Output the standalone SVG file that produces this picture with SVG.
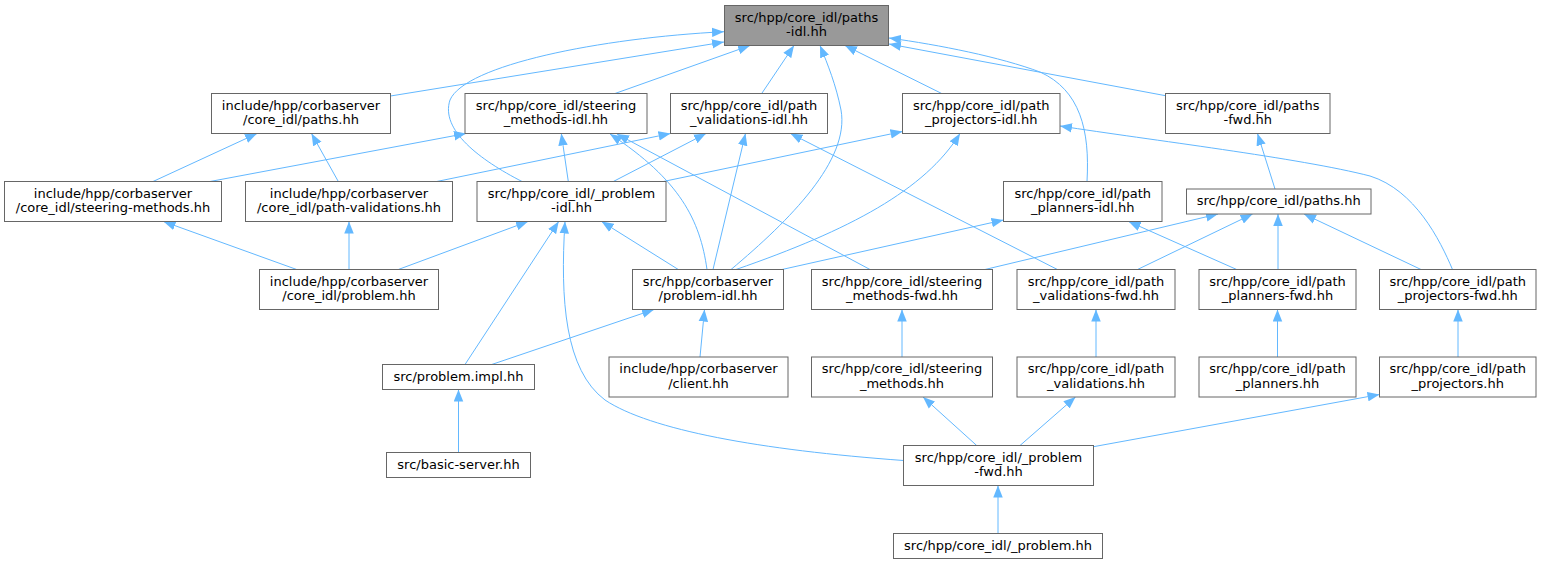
<svg xmlns="http://www.w3.org/2000/svg" width="1543" height="564" viewBox="0 0 1543 564">
<defs>
<style>
.n rect{fill:#ffffff;stroke:#666666;stroke-width:1}
.n text{font-family:"DejaVu Sans","Liberation Sans",sans-serif;font-size:13px;fill:#000000;text-anchor:middle}
#root rect{fill:#999999}
#edges path{fill:none;stroke:#63b8ff;stroke-width:1;marker-end:url(#ah)}
</style>
<marker id="ah" markerUnits="userSpaceOnUse" markerWidth="12" markerHeight="10" refX="12" refY="4.75" orient="auto" viewBox="0 0 12 9.5">
<path d="M0,0 L12,4.75 L0,9.5 z" fill="#63b8ff" stroke="none"/>
</marker>
</defs>
<rect width="1543" height="564" fill="#ffffff"/>
<g id="edges">
<path d="M390.5,96 L724,42"/>
<path d="M522,181.5 C480,160 440,130 450,100 C465,65 600,38 724,31.7"/>
<path d="M615,93.5 L750,45.5"/>
<path d="M761.7,93.5 L794,45.5"/>
<path d="M731,269.5 C790,220 850,160 841,110 C836,85 828,65 820,45.5"/>
<path d="M941.7,93.5 L845,45.5"/>
<path d="M1165.5,95.7 L889,44"/>
<path d="M1087,181.5 C1090,130 1080,90 1040,72 C1000,57 940,45 889,38"/>
<path d="M153,181.5 L257,133.5"/>
<path d="M338.3,181.5 L311.5,133.5"/>
<path d="M210,181.5 L466,133.5"/>
<path d="M436.7,181.5 L670.5,133.5"/>
<path d="M613.3,181.5 L706,133.5"/>
<path d="M568.3,181.5 L561.3,133.5"/>
<path d="M663.3,181.5 L902.5,131.5"/>
<path d="M707,269.5 C700,220 680,180 610,134"/>
<path d="M870,269.5 L617,134"/>
<path d="M713,269.5 L745.5,133.5"/>
<path d="M1057.4,269.5 L790.5,133.5"/>
<path d="M736,269.5 C850,230 925,190 960,133.5"/>
<path d="M1452.5,269.5 C1440,240 1415,190 1370,176 C1300,158 1150,140 1060,126"/>
<path d="M398.3,269.5 L528,221.5"/>
<path d="M349,269.5 L349,221.5"/>
<path d="M296.7,269.5 L163.5,221.5"/>
<path d="M465,364.5 L558.7,221.5"/>
<path d="M903.5,460.5 C760,450 650,430 605,400 C565,370 560,300 565,221.5"/>
<path d="M678.3,269.5 L601.6,221.5"/>
<path d="M782,269.5 L1003.5,220"/>
<path d="M491.7,364.5 L654,309.5"/>
<path d="M700,357 L704.5,309.5"/>
<path d="M985,269.5 L1218,214"/>
<path d="M1137.5,269.5 L1252.6,214"/>
<path d="M1278,269.5 L1278,214"/>
<path d="M1421,269.5 L1304,214"/>
<path d="M1275,189 L1257.5,133.5"/>
<path d="M1236.7,269.5 L1128.6,221.5"/>
<path d="M902,357 L902,309.5"/>
<path d="M1096,357 L1096,309.5"/>
<path d="M1277.5,357 L1277.5,309.5"/>
<path d="M1458,357 L1458,309.5"/>
<path d="M458.5,452.5 L458.5,389.5"/>
<path d="M976.7,445.5 L923,397"/>
<path d="M1020,445.5 L1075.5,397"/>
<path d="M1093.5,446.7 L1379.5,394.5"/>
<path d="M998,533.5 L998,485.5"/>
</g>
<g id="root" class="n"><rect x="724.5" y="5.5" width="164" height="40"/><text x="806.5" y="21.5">src/hpp/core_idl/paths</text><text x="806.5" y="36">-idl.hh</text></g>
<g id="inc_paths" class="n"><rect x="211.5" y="93.5" width="179" height="40"/><text x="301" y="109.5">include/hpp/corbaserver</text><text x="301" y="124">/core_idl/paths.hh</text></g>
<g id="steer_idl" class="n"><rect x="465" y="93.5" width="182" height="40"/><text x="556" y="109.5">src/hpp/core_idl/steering</text><text x="556" y="124">_methods-idl.hh</text></g>
<g id="pval_idl" class="n"><rect x="670.5" y="93.5" width="157" height="40"/><text x="749" y="109.5">src/hpp/core_idl/path</text><text x="749" y="124">_validations-idl.hh</text></g>
<g id="pproj_idl" class="n"><rect x="902.5" y="93.5" width="157.5" height="40"/><text x="981.25" y="109.5">src/hpp/core_idl/path</text><text x="981.25" y="124">_projectors-idl.hh</text></g>
<g id="paths_fwd" class="n"><rect x="1165.5" y="93.5" width="164.5" height="40"/><text x="1247.75" y="109.5">src/hpp/core_idl/paths</text><text x="1247.75" y="124">-fwd.hh</text></g>
<g id="inc_steer" class="n"><rect x="4.5" y="181.5" width="217" height="40"/><text x="113" y="197.5">include/hpp/corbaserver</text><text x="113" y="212">/core_idl/steering-methods.hh</text></g>
<g id="inc_pval" class="n"><rect x="245.5" y="181.5" width="207" height="40"/><text x="349" y="197.5">include/hpp/corbaserver</text><text x="349" y="212">/core_idl/path-validations.hh</text></g>
<g id="prob_idl" class="n"><rect x="477" y="181.5" width="189" height="40"/><text x="571.5" y="197.5">src/hpp/core_idl/_problem</text><text x="571.5" y="212">-idl.hh</text></g>
<g id="pplan_idl" class="n"><rect x="1003.5" y="181.5" width="158.5" height="40"/><text x="1082.75" y="197.5">src/hpp/core_idl/path</text><text x="1082.75" y="212">_planners-idl.hh</text></g>
<g id="paths_hh" class="n"><rect x="1186.5" y="189" width="184.5" height="25"/><text x="1278.75" y="205">src/hpp/core_idl/paths.hh</text></g>
<g id="inc_prob" class="n"><rect x="259.5" y="269.5" width="179" height="40"/><text x="349" y="285.5">include/hpp/corbaserver</text><text x="349" y="300">/core_idl/problem.hh</text></g>
<g id="cs_prob_idl" class="n"><rect x="632.5" y="269.5" width="151" height="40"/><text x="708" y="285.5">src/hpp/corbaserver</text><text x="708" y="300">/problem-idl.hh</text></g>
<g id="steer_fwd" class="n"><rect x="811.5" y="269.5" width="181" height="40"/><text x="902" y="285.5">src/hpp/core_idl/steering</text><text x="902" y="300">_methods-fwd.hh</text></g>
<g id="pval_fwd" class="n"><rect x="1017" y="269.5" width="158" height="40"/><text x="1096" y="285.5">src/hpp/core_idl/path</text><text x="1096" y="300">_validations-fwd.hh</text></g>
<g id="pplan_fwd" class="n"><rect x="1199" y="269.5" width="157" height="40"/><text x="1277.5" y="285.5">src/hpp/core_idl/path</text><text x="1277.5" y="300">_planners-fwd.hh</text></g>
<g id="pproj_fwd" class="n"><rect x="1379.5" y="269.5" width="156.5" height="40"/><text x="1457.75" y="285.5">src/hpp/core_idl/path</text><text x="1457.75" y="300">_projectors-fwd.hh</text></g>
<g id="prob_impl" class="n"><rect x="382.5" y="364.5" width="152" height="25"/><text x="458.5" y="380.5">src/problem.impl.hh</text></g>
<g id="client" class="n"><rect x="609" y="357" width="179" height="40"/><text x="698.5" y="373">include/hpp/corbaserver</text><text x="698.5" y="387.5">/client.hh</text></g>
<g id="steer_hh" class="n"><rect x="811.5" y="357" width="181" height="40"/><text x="902" y="373">src/hpp/core_idl/steering</text><text x="902" y="387.5">_methods.hh</text></g>
<g id="pval_hh" class="n"><rect x="1017" y="357" width="158" height="40"/><text x="1096" y="373">src/hpp/core_idl/path</text><text x="1096" y="387.5">_validations.hh</text></g>
<g id="pplan_hh" class="n"><rect x="1199" y="357" width="157" height="40"/><text x="1277.5" y="373">src/hpp/core_idl/path</text><text x="1277.5" y="387.5">_planners.hh</text></g>
<g id="pproj_hh" class="n"><rect x="1379.5" y="357" width="156.5" height="40"/><text x="1457.75" y="373">src/hpp/core_idl/path</text><text x="1457.75" y="387.5">_projectors.hh</text></g>
<g id="basic" class="n"><rect x="386.5" y="452.5" width="144" height="25"/><text x="458.5" y="468.5">src/basic-server.hh</text></g>
<g id="prob_fwd" class="n"><rect x="903.5" y="445.5" width="190" height="40"/><text x="998.5" y="461.5">src/hpp/core_idl/_problem</text><text x="998.5" y="476">-fwd.hh</text></g>
<g id="prob_hh" class="n"><rect x="893.5" y="533.5" width="209" height="25"/><text x="998" y="549.5">src/hpp/core_idl/_problem.hh</text></g>
</svg>
